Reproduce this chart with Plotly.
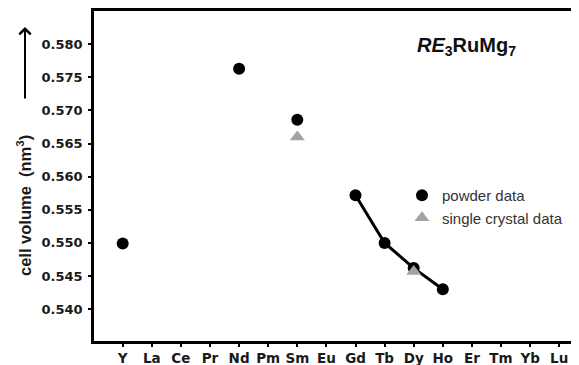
import plotly.graph_objects as go

elements = ["Y", "La", "Ce", "Pr", "Nd", "Pm", "Sm", "Eu", "Gd", "Tb", "Dy", "Ho", "Er", "Tm", "Yb", "Lu"]

powder_el = ["Y", "Nd", "Sm", "Gd", "Tb", "Dy", "Ho"]
powder_vol = [0.5499, 0.5763, 0.5686, 0.5572, 0.5500, 0.5462, 0.5430]

line_el = ["Gd", "Tb", "Dy", "Ho"]
line_vol = [0.5572, 0.5500, 0.5462, 0.5430]

crystal_el = ["Sm", "Dy"]
crystal_vol = [0.5660, 0.5457]

ytick_vals = [0.540, 0.545, 0.550, 0.555, 0.560, 0.565, 0.570, 0.575, 0.580]
ytick_text = ["0.540", "0.545", "0.550", "0.555", "0.560", "0.565", "0.570", "0.575", "0.580"]

idx = {e: i for i, e in enumerate(elements)}

fig = go.Figure()
fig.add_trace(go.Scatter(
    x=[idx[e] for e in line_el], y=line_vol, mode="lines",
    line=dict(color="black", width=3), showlegend=False, hoverinfo="skip"))
fig.add_trace(go.Scatter(
    x=[idx[e] for e in powder_el], y=powder_vol, mode="markers", name="powder data",
    marker=dict(symbol="circle", size=12, color="black")))
fig.add_trace(go.Scatter(
    x=[idx[e] for e in crystal_el], y=crystal_vol, mode="markers", name="single crystal data",
    marker=dict(symbol="triangle-up", size=13, color="#a3a3a3")))

# page body has an 8px margin, so the figure is drawn at (8, 8) in the window
OFF = 8
W, H = 579 - OFF, 365 - OFF
ml, mr, mt, mb = 94 - OFF, 0, 11 - OFF, 24
pw, ph = W - ml - mr, H - mt - mb

def px(x):
    return (x - OFF - ml) / pw

def py(y):
    return (H - mb - (y - OFF)) / ph

fig.update_layout(
    width=W, height=H,
    margin=dict(l=ml, r=mr, t=mt, b=mb, pad=0, autoexpand=False),
    plot_bgcolor="white", paper_bgcolor="white",
    font=dict(family="DejaVu Sans", color="#1a1a1a"),
    legend=dict(x=px(402), y=py(179), xanchor="left", yanchor="top",
                font=dict(family="Liberation Sans", size=15, color="#333333"),
                bgcolor="rgba(0,0,0,0)", borderwidth=0, tracegroupgap=0),
    xaxis=dict(range=[-0.986, 15.68], tickmode="array", automargin=False,
               tickvals=list(range(len(elements))), ticktext=elements,
               showgrid=False, zeroline=False, showline=True, linecolor="black",
               linewidth=2.5, mirror=True, ticks="outside", ticklen=3, tickwidth=2,
               tickcolor="black", ticklabelstandoff=0,
               tickfont=dict(family="DejaVu Sans", size=13.5, weight="bold", color="#1a1a1a")),
    yaxis=dict(range=[0.5352, 0.5850], tickmode="array", automargin=False,
               tickvals=ytick_vals, ticktext=ytick_text,
               showgrid=False, zeroline=False, showline=True, linecolor="black",
               linewidth=2.5, mirror=False, ticks="outside", ticklen=3, tickwidth=2,
               tickcolor="black", ticklabelstandoff=3,
               tickfont=dict(family="DejaVu Sans", size=13, weight="bold", color="#1a1a1a")),
)

fig.add_annotation(
    text="cell volume  (nm<sup>3</sup>)", xref="paper", yref="paper",
    x=px(24), y=py(206), xanchor="center", yanchor="middle", textangle=-90,
    showarrow=False,
    font=dict(family="Liberation Sans", size=16.5, weight="bold", color="#1a1a1a"))

fig.add_annotation(
    text="", xref="paper", yref="paper", x=px(25), y=py(27),
    ax=0, ay=73, showarrow=True, arrowhead=4, arrowsize=1.1, arrowwidth=2,
    arrowcolor="black")

fig.add_annotation(
    text="<i>RE</i><sub>3</sub>RuMg<sub>7</sub>", xref="paper", yref="paper",
    x=px(466.5), y=py(46), xanchor="center", yanchor="middle", showarrow=False,
    font=dict(family="Liberation Sans", size=20, weight="bold", color="#111111"))

fig.write_html("out.html")
